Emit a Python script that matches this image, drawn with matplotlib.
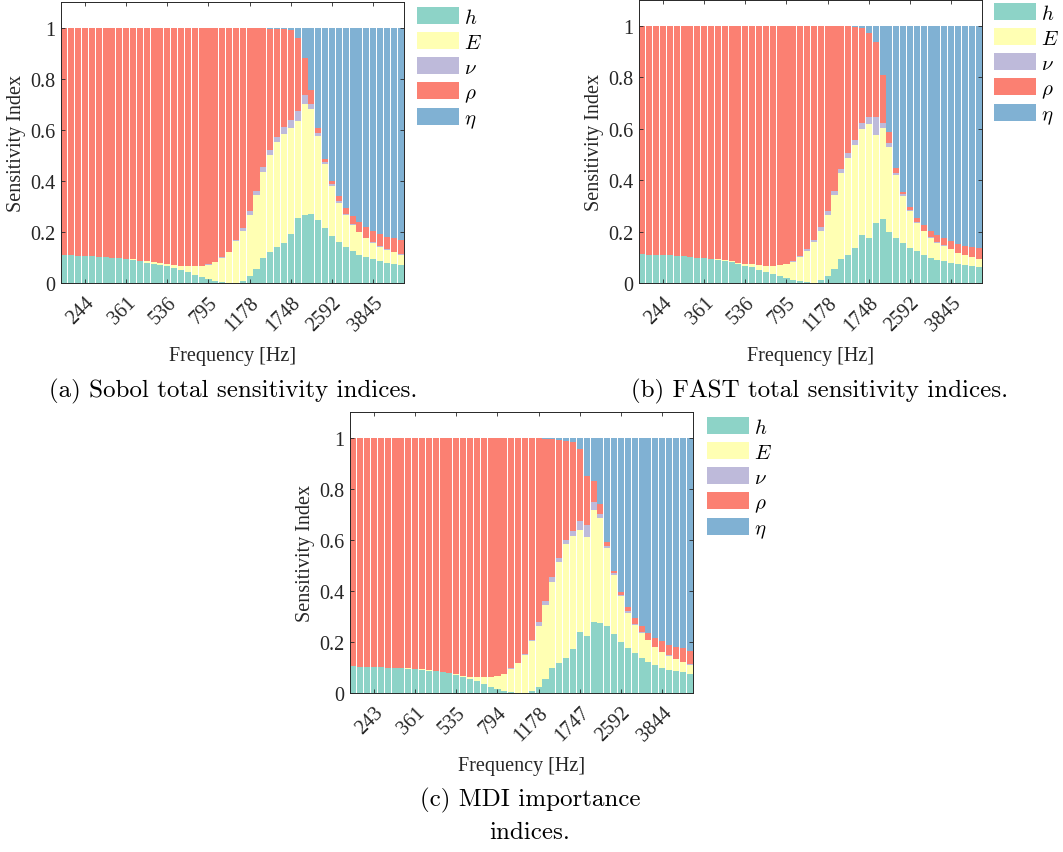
import matplotlib
matplotlib.use("Agg")
import matplotlib.pyplot as plt
import numpy as np

plt.rcParams['font.family'] = 'Liberation Serif'
plt.rcParams['mathtext.fontset'] = 'cm'
plt.rcParams['font.size'] = 14.5

# sensitivity index per parameter, 50 log-spaced frequencies
sobol_h = [0.110, 0.109, 0.107, 0.106, 0.104, 0.102, 0.100, 0.098, 0.097, 0.093,
           0.089, 0.085, 0.080, 0.075, 0.071, 0.065, 0.058, 0.050, 0.042, 0.033,
           0.024, 0.015, 0.008, 0.002, 0.000, 0.001, 0.008, 0.026, 0.055, 0.097,
           0.120, 0.141, 0.157, 0.190, 0.256, 0.265, 0.270, 0.247, 0.215, 0.184,
           0.162, 0.140, 0.124, 0.111, 0.102, 0.093, 0.085, 0.077, 0.073, 0.069]
sobol_E = [0.000, 0.000, 0.000, 0.000, 0.000, 0.000, 0.000, 0.001, 0.001, 0.002,
           0.003, 0.003, 0.005, 0.006, 0.006, 0.009, 0.012, 0.017, 0.023, 0.032,
           0.042, 0.057, 0.073, 0.097, 0.120, 0.162, 0.196, 0.242, 0.291, 0.338,
           0.380, 0.410, 0.427, 0.417, 0.378, 0.435, 0.411, 0.330, 0.251, 0.197,
           0.153, 0.126, 0.104, 0.087, 0.073, 0.064, 0.056, 0.054, 0.047, 0.042]
sobol_nu = [0.000, 0.000, 0.000, 0.000, 0.000, 0.000, 0.000, 0.000, 0.000, 0.000,
            0.000, 0.000, 0.000, 0.000, 0.000, 0.000, 0.001, 0.001, 0.001, 0.001,
            0.001, 0.001, 0.001, 0.002, 0.003, 0.006, 0.010, 0.012, 0.016, 0.018,
            0.022, 0.021, 0.026, 0.031, 0.038, 0.034, 0.019, 0.012, 0.007, 0.008,
            0.006, 0.004, 0.004, 0.003, 0.003, 0.002, 0.002, 0.001, 0.001, 0.001]
sobol_rho = [0.888, 0.889, 0.891, 0.892, 0.894, 0.896, 0.898, 0.899, 0.900, 0.903,
             0.906, 0.910, 0.913, 0.917, 0.921, 0.924, 0.927, 0.930, 0.932, 0.932,
             0.931, 0.925, 0.916, 0.896, 0.874, 0.828, 0.783, 0.717, 0.635, 0.544,
             0.474, 0.423, 0.383, 0.352, 0.286, 0.147, 0.057, 0.017, 0.013, 0.009,
             0.018, 0.025, 0.030, 0.037, 0.040, 0.045, 0.049, 0.049, 0.054, 0.056]
sobol_eta = [0.002, 0.002, 0.002, 0.002, 0.002, 0.002, 0.002, 0.002, 0.002, 0.002,
             0.002, 0.002, 0.002, 0.002, 0.002, 0.002, 0.002, 0.002, 0.002, 0.002,
             0.002, 0.002, 0.002, 0.003, 0.003, 0.003, 0.003, 0.003, 0.003, 0.003,
             0.004, 0.005, 0.007, 0.010, 0.042, 0.119, 0.243, 0.394, 0.514, 0.602,
             0.661, 0.705, 0.738, 0.762, 0.782, 0.796, 0.808, 0.819, 0.825, 0.832]

fast_h = [0.111, 0.110, 0.109, 0.108, 0.107, 0.106, 0.104, 0.101, 0.098, 0.096,
          0.093, 0.089, 0.085, 0.080, 0.074, 0.067, 0.061, 0.052, 0.043, 0.035,
          0.027, 0.019, 0.012, 0.006, 0.003, 0.001, 0.010, 0.027, 0.054, 0.094,
          0.109, 0.136, 0.186, 0.175, 0.233, 0.250, 0.197, 0.175, 0.154, 0.136,
          0.123, 0.109, 0.098, 0.091, 0.085, 0.079, 0.072, 0.070, 0.066, 0.061]
fast_E = [0.000, 0.000, 0.000, 0.000, 0.000, 0.000, 0.000, 0.000, 0.000, 0.001,
          0.002, 0.003, 0.003, 0.004, 0.005, 0.008, 0.011, 0.018, 0.024, 0.032,
          0.043, 0.053, 0.071, 0.094, 0.122, 0.158, 0.194, 0.239, 0.288, 0.333,
          0.376, 0.401, 0.412, 0.443, 0.341, 0.353, 0.331, 0.244, 0.186, 0.142,
          0.111, 0.093, 0.078, 0.066, 0.060, 0.052, 0.044, 0.037, 0.034, 0.032]
fast_nu = [0.000, 0.000, 0.000, 0.000, 0.000, 0.000, 0.000, 0.000, 0.000, 0.000,
           0.000, 0.000, 0.000, 0.000, 0.000, 0.000, 0.000, 0.001, 0.001, 0.001,
           0.001, 0.001, 0.002, 0.005, 0.007, 0.008, 0.013, 0.013, 0.016, 0.018,
           0.022, 0.018, 0.023, 0.029, 0.073, 0.018, 0.015, 0.010, 0.007, 0.004,
           0.004, 0.002, 0.002, 0.002, 0.001, 0.001, 0.001, 0.001, 0.001, 0.001]
fast_rho = [0.887, 0.888, 0.889, 0.890, 0.891, 0.892, 0.894, 0.897, 0.900, 0.901,
            0.903, 0.906, 0.910, 0.914, 0.919, 0.923, 0.926, 0.927, 0.930, 0.930,
            0.927, 0.925, 0.913, 0.893, 0.866, 0.831, 0.781, 0.719, 0.640, 0.553,
            0.491, 0.441, 0.370, 0.326, 0.291, 0.186, 0.043, 0.017, 0.005, 0.012,
            0.014, 0.021, 0.025, 0.029, 0.029, 0.031, 0.034, 0.037, 0.040, 0.043]
fast_eta = [0.002, 0.002, 0.002, 0.002, 0.002, 0.002, 0.002, 0.002, 0.002, 0.002,
            0.002, 0.002, 0.002, 0.002, 0.002, 0.002, 0.002, 0.002, 0.002, 0.002,
            0.002, 0.002, 0.002, 0.002, 0.002, 0.002, 0.002, 0.002, 0.002, 0.002,
            0.002, 0.004, 0.009, 0.027, 0.062, 0.193, 0.414, 0.554, 0.648, 0.706,
            0.748, 0.775, 0.797, 0.812, 0.825, 0.837, 0.849, 0.855, 0.859, 0.863]

mdi_h = [0.104, 0.103, 0.102, 0.101, 0.100, 0.099, 0.098, 0.097, 0.095, 0.093,
         0.091, 0.088, 0.085, 0.081, 0.077, 0.072, 0.064, 0.055, 0.046, 0.035,
         0.022, 0.014, 0.007, 0.003, 0.000, 0.000, 0.008, 0.023, 0.055, 0.099,
         0.119, 0.138, 0.172, 0.240, 0.223, 0.278, 0.275, 0.262, 0.231, 0.201,
         0.176, 0.155, 0.137, 0.123, 0.111, 0.099, 0.091, 0.085, 0.081, 0.076]
mdi_E = [0.000, 0.000, 0.000, 0.000, 0.000, 0.000, 0.000, 0.000, 0.001, 0.001,
         0.001, 0.001, 0.001, 0.002, 0.002, 0.002, 0.004, 0.008, 0.015, 0.026,
         0.039, 0.053, 0.069, 0.091, 0.116, 0.150, 0.194, 0.241, 0.291, 0.334,
         0.393, 0.444, 0.444, 0.398, 0.387, 0.440, 0.412, 0.306, 0.232, 0.180,
         0.139, 0.113, 0.098, 0.083, 0.068, 0.060, 0.055, 0.048, 0.039, 0.035]
mdi_nu = [0.000, 0.000, 0.000, 0.000, 0.000, 0.000, 0.000, 0.000, 0.000, 0.000,
          0.000, 0.000, 0.000, 0.000, 0.000, 0.000, 0.000, 0.000, 0.000, 0.000,
          0.000, 0.000, 0.000, 0.003, 0.003, 0.004, 0.007, 0.013, 0.016, 0.020,
          0.015, 0.016, 0.020, 0.036, 0.048, 0.029, 0.015, 0.009, 0.007, 0.004,
          0.005, 0.004, 0.003, 0.002, 0.002, 0.002, 0.002, 0.001, 0.001, 0.001]
mdi_rho = [0.893, 0.894, 0.895, 0.896, 0.897, 0.898, 0.899, 0.900, 0.901, 0.903,
           0.905, 0.908, 0.911, 0.914, 0.918, 0.923, 0.929, 0.934, 0.936, 0.936,
           0.936, 0.930, 0.921, 0.900, 0.878, 0.843, 0.788, 0.720, 0.634, 0.542,
           0.463, 0.389, 0.346, 0.282, 0.193, 0.081, 0.038, 0.013, 0.009, 0.011,
           0.016, 0.022, 0.024, 0.028, 0.036, 0.041, 0.041, 0.047, 0.054, 0.052]
mdi_eta = [0.003, 0.003, 0.003, 0.003, 0.003, 0.003, 0.003, 0.003, 0.003, 0.003,
           0.003, 0.003, 0.003, 0.003, 0.003, 0.003, 0.003, 0.003, 0.003, 0.003,
           0.003, 0.003, 0.003, 0.003, 0.003, 0.003, 0.003, 0.003, 0.004, 0.005,
           0.010, 0.013, 0.018, 0.044, 0.149, 0.172, 0.260, 0.410, 0.521, 0.604,
           0.664, 0.706, 0.738, 0.764, 0.783, 0.798, 0.811, 0.819, 0.825, 0.836]

tick_idx = [3, 9, 15, 21, 27, 33, 39, 45]
ticks_sobol = ["244", "361", "536", "795", "1178", "1748", "2592", "3845"]
ticks_fast = ["244", "361", "536", "795", "1178", "1748", "2592", "3845"]
ticks_mdi = ["243", "361", "535", "794", "1178", "1747", "2592", "3844"]

colors = ['#8dd3c7', '#ffffb3', '#bebada', '#fb8072', '#80b1d3']
labels = [r'$h$', r'$E$', r'$\nu$', r'$\rho$', r'$\eta$']
W, H = 1063, 853


def draw_panel(ax, series, ticklabels, leg_xy):
    x = np.arange(len(series[0]))
    bottom = np.zeros(len(x))
    for vals, c, lab in zip(series, colors, labels):
        ax.bar(x, vals, width=0.88, bottom=bottom, color=c, label=lab, linewidth=0)
        bottom += np.array(vals)
    ax.set_xlim(-0.5, len(x) - 0.5)
    ax.set_ylim(0, 1.1)
    ax.set_yticks([0, 0.2, 0.4, 0.6, 0.8, 1])
    ax.set_yticklabels(['0', '0.2', '0.4', '0.6', '0.8', '1'])
    ax.set_xticks(tick_idx)
    ax.set_xticklabels(ticklabels, rotation=45, ha='right', va='top',
                       rotation_mode='anchor')
    ax.tick_params(direction='in', top=True, right=True, length=3, width=0.6,
                   colors='#262626')
    ax.tick_params(axis='x', pad=7)
    ax.tick_params(axis='y', pad=4)
    for s in ax.spines.values():
        s.set_linewidth(0.7)
        s.set_color('#262626')
    ax.set_xlabel('Frequency [Hz]', color='#262626', labelpad=8)
    ax.set_ylabel('Sensitivity Index', color='#262626', labelpad=3)
    ax.legend(loc='upper left', bbox_to_anchor=(leg_xy[0] / W, 1 - leg_xy[1] / H),
              bbox_transform=fig.transFigure, frameon=False, fontsize=15,
              handlelength=2.0, handleheight=0.85, labelspacing=0.22,
              handletextpad=0.25, borderpad=0, borderaxespad=0)


fig = plt.figure(figsize=(W / 100, H / 100), dpi=100)
ax_a = fig.add_axes([61 / W, 1 - 284 / H, 343 / W, 281 / H])
ax_b = fig.add_axes([639 / W, 1 - 284 / H, 343 / W, 283 / H])
ax_c = fig.add_axes([350 / W, 1 - 694 / H, 343 / W, 281 / H])

draw_panel(ax_a, [sobol_h, sobol_E, sobol_nu, sobol_rho, sobol_eta], ticks_sobol, (417, 8))
draw_panel(ax_b, [fast_h, fast_E, fast_nu, fast_rho, fast_eta], ticks_fast, (994, 4))
draw_panel(ax_c, [mdi_h, mdi_E, mdi_nu, mdi_rho, mdi_eta], ticks_mdi, (707, 418))

cap = dict(ha='center', va='center', fontfamily='cmr10', fontsize=18)
fig.text(233 / W, 1 - 391 / H, '(a) Sobol total sensitivity indices.', **cap)
fig.text(820 / W, 1 - 391 / H, '(b) FAST total sensitivity indices.', **cap)
fig.text(530 / W, 1 - 800 / H, '(c) MDI importance', **cap)
fig.text(530 / W, 1 - 833 / H, 'indices.', **cap)

fig.savefig('out.png', dpi=100)
